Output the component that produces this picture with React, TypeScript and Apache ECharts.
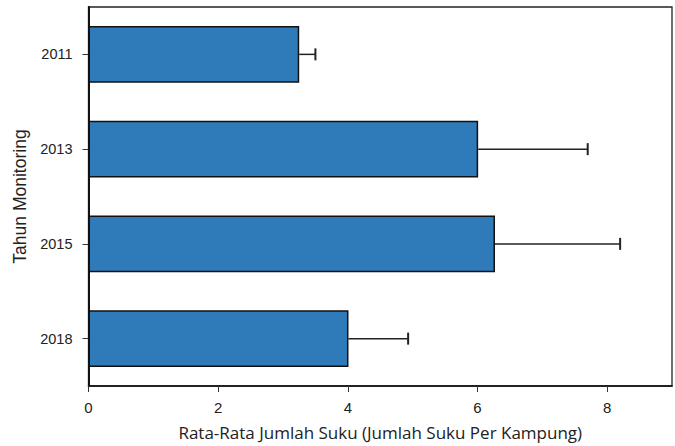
import React, { useEffect, useRef } from "react";
import * as echarts from "echarts";

const categories = ["2011", "2013", "2015", "2018"];
const means = [3.25, 6.01, 6.27, 4.01];
const errors = [0.25, 1.69, 1.93, 0.92];
const xTickValues = [0, 2, 4, 6, 8];
const xTitle = "Rata-Rata Jumlah Suku (Jumlah Suku Per Kampung)";
const yTitle = "Tahun Monitoring";

export default function App() {
  const ref = useRef<HTMLDivElement>(null);
  useEffect(() => {
    if (!ref.current) return;
    const chart = echarts.init(ref.current, null, { renderer: "svg" });
    const errData = categories.map((c, i) => [i, means[i], means[i] + errors[i]]);
    chart.setOption({
      animation: false,
      backgroundColor: "#ffffff",
      grid: {
        left: 88.5,
        right: 3,
        top: 7,
        bottom: 60,
        show: true,
        borderColor: "#222",
        borderWidth: 1.3,
        backgroundColor: "transparent",
      },
      xAxis: {
        type: "value",
        min: 0,
        max: 9,
        interval: 1,
        name: xTitle,
        nameLocation: "middle",
        nameGap: 38,
        nameTextStyle: { fontFamily: "Open Sans", fontSize: 17, color: "#222" },
        splitLine: { show: false },
        axisLine: { show: true, lineStyle: { color: "#111", width: 1.5 } },
        axisTick: {
          show: true,
          customValues: xTickValues,
          length: 6,
          lineStyle: { color: "#333", width: 1 },
        },
        axisLabel: {
          customValues: xTickValues,
          margin: 14,
          fontFamily: "Liberation Sans",
          fontSize: 15,
          color: "#222",
        },
      },
      yAxis: {
        type: "category",
        data: categories,
        inverse: true,
        name: yTitle,
        nameLocation: "middle",
        nameGap: 54,
        nameRotate: 90,
        nameTextStyle: { fontFamily: "Liberation Sans", fontSize: 17.5, color: "#222" },
        axisLine: { show: true, lineStyle: { color: "#111", width: 2 } },
        axisTick: {
          show: true,
          alignWithLabel: true,
          length: 6,
          lineStyle: { color: "#333", width: 1 },
        },
        axisLabel: {
          margin: 16,
          fontFamily: "Liberation Sans",
          fontSize: 14.5,
          color: "#222",
        },
      },
      series: [
        {
          type: "bar",
          data: means,
          barCategoryGap: "40%",
          itemStyle: { color: "#2f7ab9", borderColor: "#111", borderWidth: 1.5 },
          z: 2,
        },
        {
          type: "custom",
          data: errData,
          z: 3,
          renderItem: (params: any, api: any) => {
            const cat = api.value(0);
            const start = api.coord([api.value(1), cat]);
            const end = api.coord([api.value(2), cat]);
            const half = 6;
            const style = { stroke: "#222", lineWidth: 1.5 };
            return {
              type: "group",
              children: [
                {
                  type: "line",
                  shape: { x1: start[0], y1: start[1], x2: end[0], y2: end[1] },
                  style,
                },
                {
                  type: "line",
                  shape: { x1: end[0], y1: end[1] - half, x2: end[0], y2: end[1] + half },
                  style: { stroke: "#222", lineWidth: 2 },
                },
              ],
            };
          },
          encode: { x: [1, 2], y: 0 },
        },
      ],
    });
    return () => chart.dispose();
  }, []);
  return <div ref={ref} style={{ width: 675, height: 446, position: "absolute", left: 0, top: 0 }} />;
}
